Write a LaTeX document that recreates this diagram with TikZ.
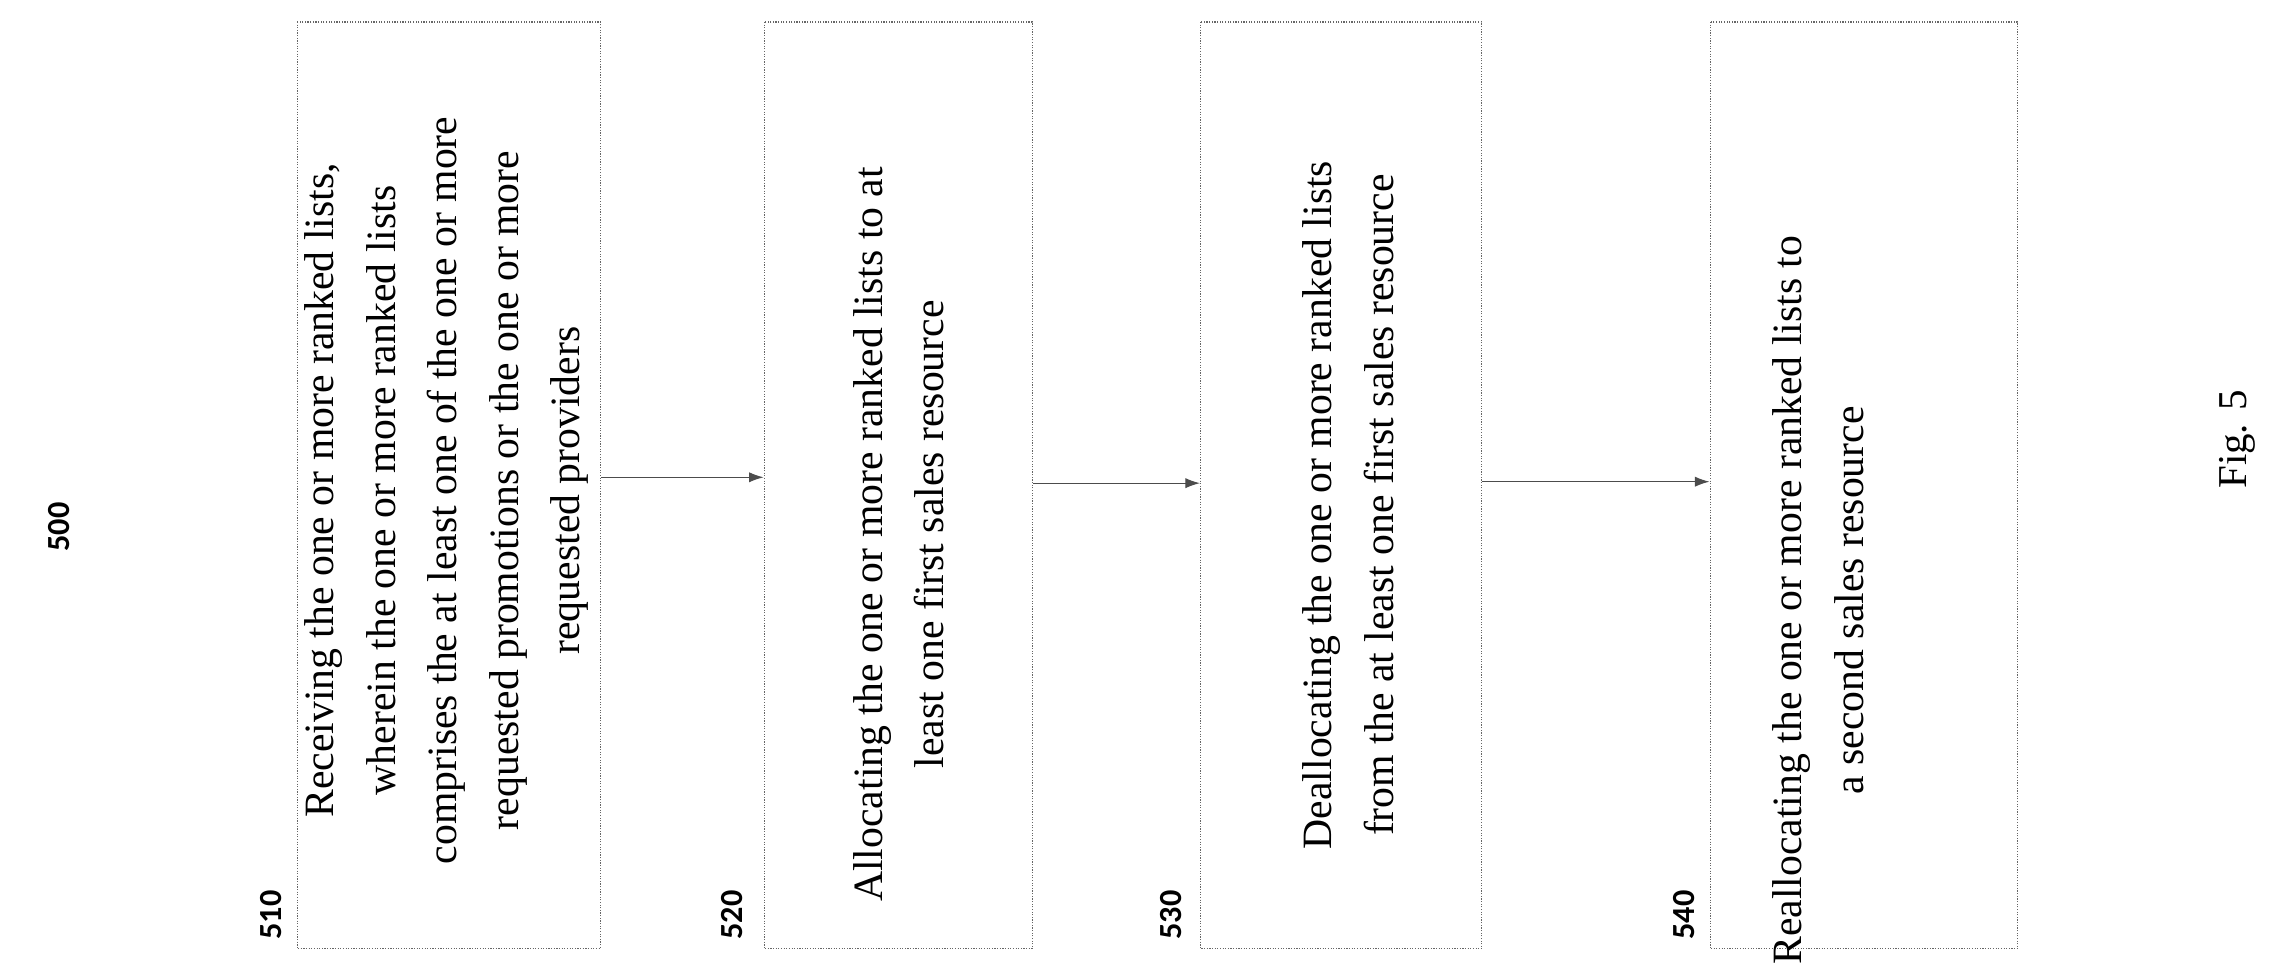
\documentclass[tikz,border=0pt]{standalone}
\usepackage{fontspec}
\setmainfont{Liberation Serif}
\newfontfamily\lab{Carlito}
\usetikzlibrary{arrows.meta}
\begin{document}
\begin{tikzpicture}[x=1pt,y=-1pt,
 stepbox/.style={draw=black!60,densely dotted,line width=0.8pt,minimum width=633pt,minimum height=207pt,rotate=90,inner sep=4pt},
 txt/.style={rotate=90,align=center,font=\fontsize{28.5}{42}\selectfont},
 lbl/.style={rotate=90,font=\lab\bfseries\fontsize{22}{26}\selectfont},
 arr/.style={draw=black!70,line width=0.8pt,-{Latex[length=10pt,width=7pt]}}]
\useasboundingbox (0,0) rectangle (1560,660);
\node[lbl] (l500) at (40,360) {500};
\node[stepbox,minimum height=207pt] (b1) at (306.5,331.5) {};
\node[stepbox,minimum height=183pt] (b2) at (613.5,331.5) {};
\node[stepbox,minimum height=192pt] (b3) at (916,331.5) {};
\node[stepbox,minimum height=210pt] (b4) at (1273,331.5) {};
\node[txt] (t1) at (305,335) {Receiving the one or more ranked lists,\\ wherein the one or more ranked lists\\ comprises the at least one of the one or more\\ requested promotions or the one or more\\ requested providers};
\node[txt] (t2) at (614,365) {Allocating the one or more ranked lists to at\\ least one first sales resource};
\node[txt] (t3) at (921,345) {Deallocating the one or more ranked lists\\ from the at least one first sales resource};
\node[txt] (t4) at (1242,410) {Reallocating the one or more ranked lists to\\ a second sales resource};
\node[lbl] (l1) at (185,625) {510};
\node[lbl] (l2) at (500,625) {520};
\node[lbl] (l3) at (800,625) {530};
\node[lbl] (l4) at (1150,625) {540};
\draw[arr] (b1.south|-0,326) -- (b2.north|-0,326);
\draw[arr] (b2.south|-0,330) -- (b3.north|-0,330);
\draw[arr] (b3.south|-0,329) -- (b4.north|-0,329);
\node[rotate=90,font=\fontsize{28}{32}\selectfont] (fig) at (1528,300) {Fig. 5};
\end{tikzpicture}
\end{document}
